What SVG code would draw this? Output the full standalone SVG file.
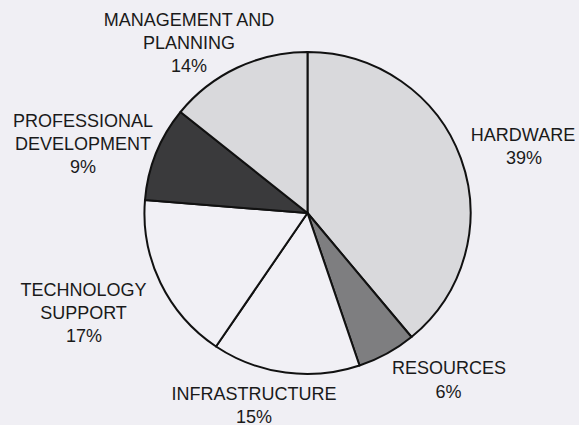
<svg xmlns="http://www.w3.org/2000/svg" width="579" height="425" viewBox="0 0 579 425">
<style>
.w{stroke:#111;stroke-width:2;stroke-linejoin:round}
.lt{fill:#d9d9dc}
.md{fill:#7e7e80}
.dk{fill:#3a3a3c}
.wh{fill:#f1f0f5}
text{font-family:"Liberation Sans",Arial,sans-serif;font-size:18px;fill:#1a1a1a;text-anchor:middle}
</style>
<rect width="579" height="425" fill="#f0eff4"/>
<g id="hardware">
<path class="w lt" d="M307.5 213 L307.5 52 A163 161 0 0 1 411.5 337 Z"/>
<text x="523" y="141">HARDWARE</text>
<text x="524" y="164">39%</text>
</g>
<g id="resources">
<path class="w md" d="M307.5 213 L411.5 337 A163 161 0 0 1 359.5 365.5 Z"/>
<text x="449" y="374">RESOURCES</text>
<text x="448.5" y="397.5">6%</text>
</g>
<g id="infrastructure">
<path class="w wh" d="M307.5 213 L359.5 365.5 A163 161 0 0 1 216 346.5 Z"/>
<text x="254" y="400">INFRASTRUCTURE</text>
<text x="254" y="422.5">15%</text>
</g>
<g id="technology-support">
<path class="w wh" d="M307.5 213 L216 346.5 A163 161 0 0 1 145 200 Z"/>
<text x="83.5" y="295.5">TECHNOLOGY</text>
<text x="83.5" y="319">SUPPORT</text>
<text x="84" y="341.5">17%</text>
</g>
<g id="professional-development">
<path class="w dk" d="M307.5 213 L145 200 A163 161 0 0 1 180.5 112 Z"/>
<text x="83" y="127">PROFESSIONAL</text>
<text x="83" y="150">DEVELOPMENT</text>
<text x="83" y="173">9%</text>
</g>
<g id="management-and-planning">
<path class="w lt" d="M307.5 213 L180.5 112 A163 161 0 0 1 307.5 52 Z"/>
<text x="189" y="26">MANAGEMENT AND</text>
<text x="189" y="49">PLANNING</text>
<text x="189" y="72">14%</text>
</g>
<g id="connectors"></g>
</svg>
